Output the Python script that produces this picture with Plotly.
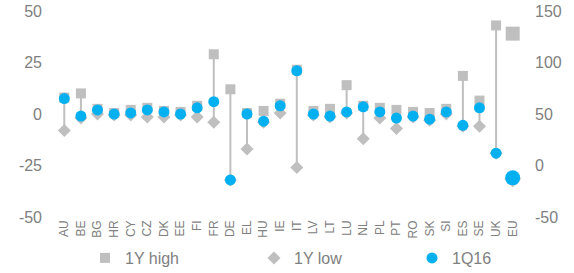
import plotly.graph_objects as go

countries = ["AU", "BE", "BG", "HR", "CY", "CZ", "DK", "EE", "FI", "FR", "DE", "EL", "HU", "IE",
             "IT", "LV", "LT", "LU", "NL", "PL", "PT", "RO", "SK", "SI", "ES", "SE", "UK"]
high_1y = [8, 10, 2.5, 0.5, 2, 3, 1.5, 1, 4, 29, 12, 0.5, 1.5, 5,
           21.5, 1.5, 2.5, 14, 4, 3, 2, 1, 0.5, 2.5, 18.5, 6.5, 43]
low_1y = [-8, -2, 0, -0.5, -0.5, -1.5, -1.5, -0.5, -1.5, -4, -32, -17, -4, 0.5,
          -26, -0.5, -1.5, 0.5, -12, -2, -7, -1.5, -3, 0, -6, -6, -19]
q1_16 = [7.5, -1, 2, 0, 0.5, 2, 1, 0, 3, 6, -32, 0, -3.5, 4,
         21, 0, -1, 1, 3.5, 1, -2, -1, -2.5, 1, -5.5, 3, -19]

eu_cat = ["EU"]
eu_high = [128]
eu_low = [-13]
eu_q = [-12]

left_ticks = [-50, -25, 0, 25, 50]
right_ticks = [-50, 0, 50, 100, 150]

all_cats = countries + eu_cat

GREY = "#bfbfbf"
BLUE = "#00b0f0"
TXT = "#808080"

fig = go.Figure()

# connector lines low-high
lx, ly = [], []
for c, lo, hi in zip(countries, low_1y, high_1y):
    lx += [c, c, None]
    ly += [lo, hi, None]
fig.add_trace(go.Scatter(x=lx, y=ly, mode="lines", line=dict(color=GREY, width=2),
                         showlegend=False, hoverinfo="skip"))

fig.add_trace(go.Scatter(x=countries, y=high_1y, mode="markers", name="1Y high", legend="legend",
                         marker=dict(symbol="square", size=10, color=GREY)))
fig.add_trace(go.Scatter(x=countries, y=low_1y, mode="markers", name="1Y low", legend="legend2",
                         marker=dict(symbol="diamond", size=10, color=GREY)))
fig.add_trace(go.Scatter(x=countries, y=q1_16, mode="markers", name="1Q16", legend="legend3",
                         marker=dict(symbol="circle", size=11, color=BLUE)))

# EU on secondary axis
fig.add_trace(go.Scatter(x=eu_cat, y=eu_high, mode="markers", yaxis="y2", showlegend=False,
                         marker=dict(symbol="square", size=14, color=GREY)))
fig.add_trace(go.Scatter(x=eu_cat, y=eu_low, mode="markers", yaxis="y2", showlegend=False,
                         marker=dict(symbol="diamond", size=13, color=GREY)))
fig.add_trace(go.Scatter(x=eu_cat, y=eu_q, mode="markers", yaxis="y2", showlegend=False,
                         marker=dict(symbol="circle", size=15, color=BLUE)))

leg_common = dict(orientation="h", xanchor="left", y=-0.199, yanchor="middle",
                  font=dict(size=16, color=TXT), itemwidth=30, bgcolor="rgba(0,0,0,0)")

fig.update_layout(
    width=574, height=273,
    margin=dict(l=56, r=53, t=11, b=56, autoexpand=False),
    paper_bgcolor="white", plot_bgcolor="white",
    font=dict(family="Liberation Sans, Arial, sans-serif", color=TXT, size=16),
    xaxis=dict(type="category", categoryorder="array", categoryarray=all_cats,
               range=[-0.5, len(all_cats) - 0.5], showgrid=False, zeroline=False,
               showline=False, tickangle=-90, tickfont=dict(size=12, color=TXT), ticks=""),
    yaxis=dict(range=[-50, 50], tickvals=left_ticks, ticktext=[str(v) for v in left_ticks],
               showgrid=False, zeroline=False, showline=False, ticklabeloverflow="allow",
               ticklabelstandoff=13, tickfont=dict(size=16, color=TXT), ticks=""),
    yaxis2=dict(range=[-50, 150], tickvals=right_ticks, ticktext=[str(v) for v in right_ticks],
                overlaying="y", side="right", showgrid=False, zeroline=False, showline=False,
                ticklabeloverflow="allow", ticklabelstandoff=13,
                tickfont=dict(size=16, color=TXT), ticks=""),
    legend=dict(x=0.0624, **leg_common),
    legend2=dict(x=0.4258, **leg_common),
    legend3=dict(x=0.7656, **leg_common),
)

fig.write_html("out.html", config={"displayModeBar": False},
               post_script="document.body.style.margin='0';")
